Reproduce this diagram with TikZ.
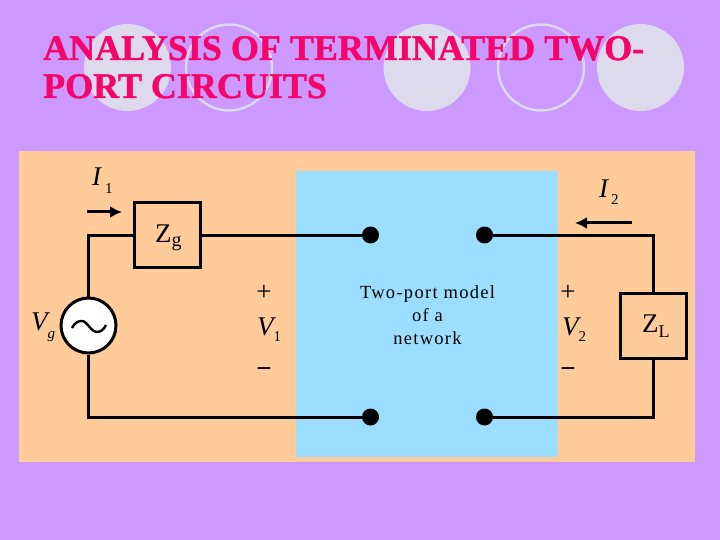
\documentclass[tikz,border=0pt]{standalone}
\usepackage{fontspec}
\setmainfont{Liberation Serif}
\newfontfamily\ttlfont[FakeBold=1.2]{Liberation Serif Bold}
\newfontfamily\spacedfont[LetterSpace=7]{Liberation Serif}
\usetikzlibrary{arrows.meta}
\definecolor{bgp}{HTML}{CC99FF}
\definecolor{panel}{HTML}{FFCC99}
\definecolor{core}{HTML}{9CDEFF}
\definecolor{disc}{HTML}{DDDAEE}
\definecolor{ttl}{HTML}{F5056B}
\newcommand{\subdrop}[3]{\kern#1pt\raisebox{-#2pt}{\fontsize{15}{15}\selectfont\upshape #3}}
\tikzset{
  wire/.style={line width=3pt,black},
  box/.style={draw=black,line width=3.2pt,fill=panel,minimum width=66pt,minimum height=65pt,inner sep=0pt},
  term/.style={circle,fill=black,minimum size=17pt,inner sep=0pt},
  src/.style={circle,draw=black,line width=3pt,fill=white,minimum size=55pt,inner sep=0pt},
  lab/.style={inner sep=0pt,anchor=base west,font=\fontsize{27}{27}\selectfont\itshape},
  sgn/.style={inner sep=0pt,font=\fontsize{27}{27}\selectfont},
  zlab/.style={inner sep=0pt,anchor=base west,font=\fontsize{27}{27}\selectfont},
  curarrow/.style={line width=3pt,-{Latex[length=12pt,width=12pt]}},
  ttlstyle/.style={inner sep=0pt,anchor=base west,text=ttl,font=\fontsize{36}{36}\ttlfont},
  fulldisc/.style={fill=disc},
  ringdisc/.style={draw=disc,line width=2.4pt}
}
\begin{document}
\begin{tikzpicture}[x=1pt,y=-1pt]
\useasboundingbox (0,0) rectangle (720,540);
\fill[bgp] (0,0) rectangle (720,540);
\fill[fulldisc] (127.5,67.5) circle[radius=43.5];
\draw[ringdisc] (229,67.5) circle[radius=43];
\fill[fulldisc] (427,67.5) circle[radius=43.5];
\draw[ringdisc] (541,67.5) circle[radius=43];
\fill[fulldisc] (640.5,67.5) circle[radius=43.5];
\node[ttlstyle] (t1) at (43,60) {ANALYSIS OF TERMINATED TWO-};
\node[ttlstyle] (t2) at (43,98) {PORT CIRCUITS};
\fill[panel] (19,151) rectangle (695,462);
\fill[core] (296,171) rectangle (558,457);
\node[box] (zg) at (167.5,235) {};
\node[box] (zl) at (653.5,326) {};
\node[src] (vs) at (88.5,325.5) {};
\node[term] (a) at (370.5,235) {};
\node[term] (b) at (484.5,235) {};
\node[term] (c) at (370.5,417) {};
\node[term] (d) at (484.5,417) {};
\coordinate (tl) at (88.5,235);
\coordinate (bl) at (88.5,417);
\coordinate (tr) at (653.5,235);
\coordinate (br) at (653.5,417);
\draw[wire] (vs) -- (tl) -- (zg);
\draw[wire] (zg) -- (a);
\draw[wire] (b) -- (tr) -- (zl);
\draw[wire] (zl) -- (br) -- (d);
\draw[wire] (c) -- (bl) -- (vs);
\draw[line width=2.4pt] (72,328) .. controls (75,322) and (79,321) .. (82,321) .. controls (87,321) and (91,332) .. (97,332) .. controls (101,332) and (104,329) .. (106,325);
\coordinate (i1s) at (87,212); \coordinate (i1e) at (122,212);
\coordinate (i2s) at (632,223); \coordinate (i2e) at (575,223);
\draw[curarrow] (i1s) -- (i1e);
\draw[curarrow] (i2s) -- (i2e);
\node[lab] (li1) at (92,186) {I\subdrop{4}{7}{1}};
\node[lab] (li2) at (599,197) {I\subdrop{3}{7}{2}};
\node[lab] (lvg) at (31,330) {V\subdrop{0}{8}{\itshape g}};
\node[lab] (lv1) at (257,335) {V\subdrop{0}{6}{1}};
\node[lab] (lv2) at (562,335) {V\subdrop{0}{6}{2}};
\node[sgn] (p1) at (264,293) {+};
\node[sgn] (m1) at (264,373) {\bfseries −};
\node[sgn] (p2) at (568,293) {+};
\node[sgn] (m2) at (568,373) {\bfseries −};
\node[zlab] (zgt) at (155,242) {Z\kern0pt\raisebox{-4pt}{\fontsize{20}{20}\selectfont g}};
\node[zlab] (zlt) at (642,332) {Z\kern0pt\raisebox{-5pt}{\fontsize{18}{18}\selectfont L}};
\node[inner sep=0pt,align=center,font=\fontsize{18.5}{23}\spacedfont] (model) at (427.5,315) {Two-port model\\of a\\network};
\end{tikzpicture}
\end{document}
